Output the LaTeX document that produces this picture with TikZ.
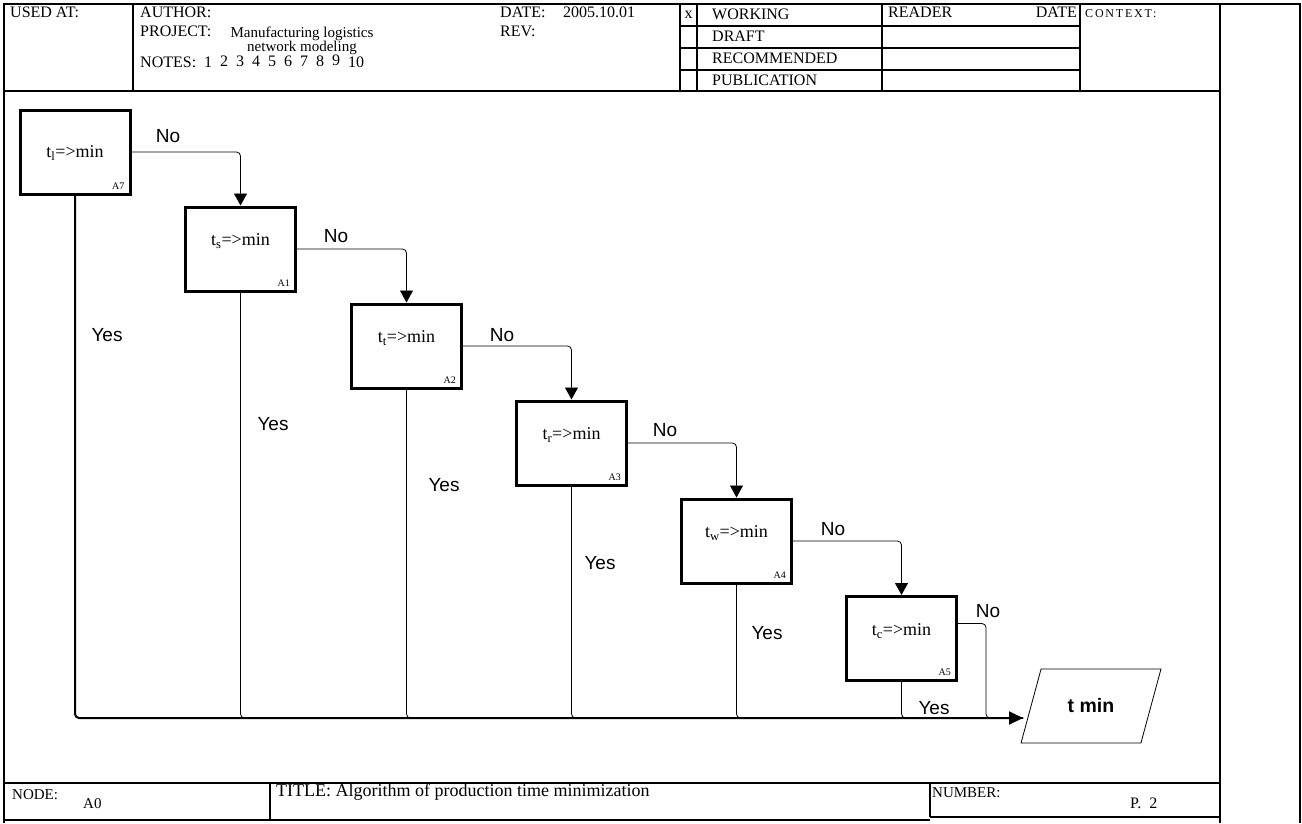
\documentclass[tikz,border=0pt]{standalone}
\usepackage{fontspec}
\setmainfont{Liberation Serif}
\newfontfamily\arialfont{Liberation Sans}
\newfontfamily\ctxfont[LetterSpace=15]{Liberation Serif}
\usetikzlibrary{arrows.meta,shapes.geometric}

\begin{document}
\begin{tikzpicture}[x=1pt, y=-1pt,
    frame/.style={line width=1.2pt},
    hdr/.style={anchor=base west, inner sep=0pt, font=\fontsize{16}{18}\selectfont},
    fbox/.style={draw, line width=3pt, minimum width=110pt, minimum height=84pt,
      inner sep=0pt, font=\fontsize{18}{20}\selectfont},
    tag/.style={anchor=south east, inner sep=0pt, xshift=-7pt, yshift=6pt,
      font=\fontsize{10}{12}\selectfont},
    ans/.style={inner sep=0pt, font=\arialfont\fontsize{19}{21}\selectfont},
    flow/.style={line width=0.8pt, rounded corners=4pt, -{Triangle[length=12pt, width=13pt]}},
    yesline/.style={line width=0.8pt, rounded corners=4pt},
    mainline/.style={line width=2pt, rounded corners=4pt, -{Triangle[length=14pt, width=13pt]}},
  ]
    \useasboundingbox (0,0) rectangle (1302,823);

    % form frame
    \draw[frame] (4,823) -- (4,4) -- (1300,4) -- (1300,823);
    \draw[frame] (1220,4) -- (1220,823);
    \draw[frame] (4,91) -- (1220,91);
    \foreach \x in {133,680,697,882,1080}
    \draw[frame] (\x,4) -- (\x,91);
    \foreach \y in {26,48,70}
    \draw[frame] (680,\y) -- (1080,\y);
    \draw[frame] (4,783) -- (1220,783);
    \draw[frame] (270,783) -- (270,820);
    \draw[frame] (930,783) -- (930,817);
    \draw[frame] (4,820) -- (930,820);
    \draw[frame] (930,817) -- (1220,817);

    % header
    \node[hdr] (usedat) at (10,17) {USED AT:};
    \node[hdr] (author) at (140,17) {AUTHOR:};
    \node[hdr] (project) at (140,36) {PROJECT:};
    \node[hdr, anchor=base, font=\fontsize{15}{17}\selectfont] (projname) at (302,37) {Manufacturing logistics};
    \node[hdr, anchor=base, font=\fontsize{15}{17}\selectfont] (projname2) at (302,51) {network modeling};
    \node[hdr] (notes) at (140,67) {NOTES:\ \ 1\ \ \raisebox{1pt}{2\ \ 3\ \ 4\ \ 5\ \ 6\ \ 7\ \ 8}\ \ \raisebox{1.5pt}{9}\ \ 10};
    \node[hdr] (date) at (500,17) {DATE:};
    \node[hdr] (dateval) at (563,17) {2005.10.01};
    \node[hdr] (rev) at (500,36) {REV:};
    \node[hdr, anchor=base] (xmark) at (688.5,18) {x};
    \node[hdr] (working) at (712,19) {WORKING};
    \node[hdr] (draft) at (712,41) {DRAFT};
    \node[hdr] (recommended) at (712,63) {RECOMMENDED};
    \node[hdr] (publication) at (712,85) {PUBLICATION};
    \node[hdr] (reader) at (888,17) {READER};
    \node[hdr, anchor=base east] (readdate) at (1077,17) {DATE};
    \node[hdr, font=\ctxfont\fontsize{12}{14}\selectfont] (context) at (1085,17) {CONTEXT:};

    % footer
    \node[hdr, font=\fontsize{15}{17}\selectfont] (nodelbl) at (12,799) {NODE:};
    \node[hdr, font=\fontsize{15}{17}\selectfont] (nodeval) at (83,808) {A0};
    \node[hdr, font=\fontsize{18}{20}\selectfont] (title) at (276,796) {TITLE: Algorithm of production time minimization};
    \node[hdr, font=\fontsize{15}{17}\selectfont] (number) at (932,797) {NUMBER:};
    \node[hdr] (page) at (1130,808) {P.\ \ 2};

    % decision boxes
    \foreach \nm/\x/\y/\tsub/\tg/\tdep in {a7/75/152/l/A7/0, a1/240.5/249/s/A1/18,
      a2/406.5/346/t/A2/18, a3/571.5/443/r/A3/18, a4/736.5/541/w/A4/18, a5/901.5/638.5/c/A5/18}
    \node[fbox, text depth=\tdep pt, label={[tag]south east:\tg}] (\nm) at (\x,\y) {t\textsubscript{\tsub}=>min};

    \node[draw, trapezium, trapezium left angle=63, trapezium right angle=117,
      trapezium stretches=true, minimum width=140pt, minimum height=74pt, line width=0.8pt,
      font=\arialfont\bfseries\fontsize{19.5}{21}\selectfont] (tmin) at (1091,706) {t min};
    \coordinate (tip) at (1023,718);

    % No branches
    \foreach \a/\b in {a7/a1, a1/a2, a2/a3, a3/a4, a4/a5}
    \draw[flow] (\a.east) -| (\b.north);

    % Yes branches
    \foreach \a in {a1,a2,a3,a4,a5}
    \draw[yesline] (\a.south) |- (tip);
    \draw[yesline] ([yshift=15pt]a5.east) -- ++(28,0) |- (tip);
    \draw[mainline] (a7.south) |- (tip);

    \foreach \nm/\x/\y in {no1/168/136, no2/336/236, no3/502/335, no4/665/430, no5/833/529, no6/988/611}
    \node[ans] (\nm) at (\x,\y) {No};
    \foreach \nm/\x/\y in {yes1/107/335, yes2/273/424, yes3/444/485, yes4/600/563, yes5/767/633, yes6/934/708}
    \node[ans] (\nm) at (\x,\y) {Yes};
  \end{tikzpicture}
\end{document}
